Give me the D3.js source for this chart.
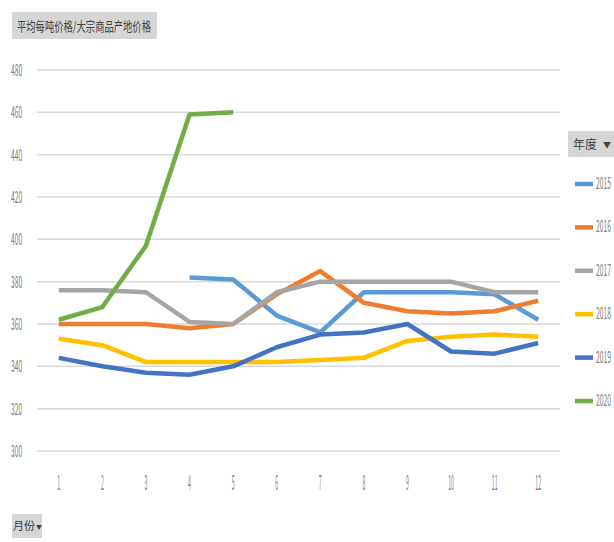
<!DOCTYPE html>
<html>
<head>
<meta charset="utf-8">
<script src="https://cdn.jsdelivr.net/npm/d3@7"></script>
<style>
  body { margin: 0; background: #fff; }
  text { font-family: "Noto Sans CJK SC", "Liberation Sans", sans-serif; }
</style>
</head>
<body>
<script>
var months = [1, 2, 3, 4, 5, 6, 7, 8, 9, 10, 11, 12];
var yTicks = [300, 320, 340, 360, 380, 400, 420, 440, 460, 480];
var years = ["2015", "2016", "2017", "2018", "2019", "2020"];
var colors = ["#5b9bd5", "#ed7d31", "#a5a5a5", "#ffc000", "#4472c4", "#70ad47"];

var v2015 = [null, null, null, 382, 381, 364, 356, 375, 375, 375, 374, 362];
var v2016 = [360, 360, 360, 358, 360, 374, 385, 370, 366, 365, 366, 371];
var v2017 = [376, 376, 375, 361, 360, 375, 380, 380, 380, 380, 375, 375];
var v2018 = [353, 350, 342, 342, 342, 342, 343, 344, 352, 354, 355, 354];
var v2019 = [344, 340, 337, 336, 340, 349, 355, 356, 360, 347, 346, 351];
var v2020 = [362, 368, 397, 459, 460, null, null, null, null, null, null, null];
var series = [v2015, v2016, v2017, v2018, v2019, v2020];

var svg = d3.select("body")
  .append("svg")
    .attr("width", 614)
    .attr("height", 542);

var x = d3.scalePoint().domain(months).range([37, 560]).padding(0.5);
var y = d3.scaleLinear().domain([300, 480]).range([451, 70]);

// title button
svg.append("rect")
    .attr("x", 12).attr("y", 12).attr("width", 145).attr("height", 27)
    .attr("fill", "#d6d6d6");
svg.append("text")
    .attr("x", 17).attr("y", 31)
    .attr("font-size", 13)
    .attr("fill", "#404040")
    .attr("textLength", 134)
    .attr("lengthAdjust", "spacingAndGlyphs")
    .text("平均每吨价格/大宗商品产地价格");

// gridlines
svg.selectAll("line.grid")
    .data(yTicks)
  .enter().append("line")
    .attr("class", "grid")
    .attr("x1", 37).attr("x2", 560)
    .attr("y1", function(d) { return y(d); })
    .attr("y2", function(d) { return y(d); })
    .attr("stroke", "#d9d9d9")
    .attr("stroke-width", 1.5);

// y labels
svg.selectAll("text.ylab")
    .data(yTicks)
  .enter().append("text")
    .attr("class", "ylab")
    .attr("transform", function(d) { return "translate(11," + (y(d) + 6) + ") scale(0.45,1.1)"; })
    .attr("font-size", 15)
    .attr("fill", "#7f7f7f")
    .text(function(d) { return d; });

// x labels
svg.selectAll("text.xlab")
    .data(months)
  .enter().append("text")
    .attr("class", "xlab")
    .attr("transform", function(d) { return "translate(" + x(d) + ",490) scale(0.4,1.6)"; })
    .attr("text-anchor", "middle")
    .attr("font-size", 13)
    .attr("fill", "#7f7f7f")
    .text(function(d) { return d; });

var line = d3.line()
    .defined(function(d) { return d != null; })
    .x(function(d, i) { return x(months[i]); })
    .y(function(d) { return y(d); });

svg.selectAll("path.series")
    .data(series)
  .enter().append("path")
    .attr("class", "series")
    .attr("d", line)
    .attr("fill", "none")
    .attr("stroke", function(d, i) { return colors[i]; })
    .attr("stroke-width", 4.5)
    .attr("stroke-linejoin", "round");

// legend
svg.append("rect")
    .attr("x", 568).attr("y", 131).attr("width", 46).attr("height", 26)
    .attr("fill", "#d6d6d6");
svg.append("text")
    .attr("x", 573).attr("y", 149)
    .attr("font-size", 12)
    .attr("fill", "#404040")
    .text("年度");
svg.append("text")
    .attr("x", 603).attr("y", 148)
    .attr("font-size", 8)
    .attr("fill", "#404040")
    .text("▼");

var legend = svg.selectAll("g.legend")
    .data(years)
  .enter().append("g")
    .attr("class", "legend")
    .attr("transform", function(d, i) { return "translate(575," + (184 + i * 43.4) + ")"; });
legend.append("line")
    .attr("x1", 0).attr("x2", 18)
    .attr("stroke", function(d, i) { return colors[i]; })
    .attr("stroke-width", 4.5);
legend.append("text")
    .attr("transform", "translate(21,5) scale(0.45,1.1)")
    .attr("font-size", 15)
    .attr("fill", "#7f7f7f")
    .text(function(d) { return d; });

// axis field button
svg.append("rect")
    .attr("x", 12).attr("y", 514).attr("width", 30).attr("height", 24)
    .attr("fill", "#d6d6d6");
svg.append("text")
    .attr("x", 13).attr("y", 530)
    .attr("font-size", 11)
    .attr("fill", "#404040")
    .text("月份");
svg.append("text")
    .attr("x", 36).attr("y", 529)
    .attr("font-size", 6)
    .attr("fill", "#404040")
    .text("▼");
</script>
</body>
</html>
